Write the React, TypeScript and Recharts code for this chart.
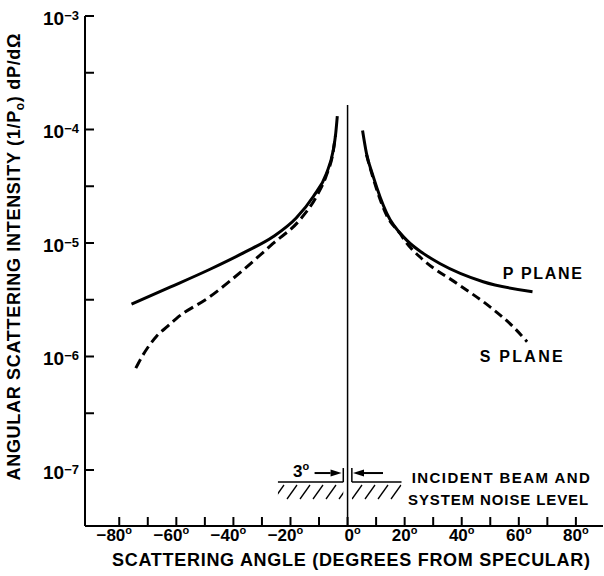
import React from 'react';
import { LineChart, Line, XAxis, YAxis, ReferenceLine, ReferenceArea, ReferenceDot } from 'recharts';

// readings: angle in degrees, intensity (1/Po) dP/dOmega
const pLeftAngle = [-75.7, -62, -48, -36, -26, -18, -12, -7.4, -5, -4.2, -3.6];
const pLeftValue = [2.9e-6, 4.1e-6, 5.9e-6, 8.3e-6, 1.14e-5, 1.66e-5, 2.57e-5, 4.1e-5, 6.6e-5, 9.0e-5, 1.31e-4];

const sLeftAngle = [-74.2, -72, -70, -67, -63, -59.9, -48.2, -36.6, -26.1, -16.7, -10.9, -7.5, -5, -4.2];
const sLeftValue = [7.9e-7, 1.0e-6, 1.2e-6, 1.5e-6, 1.85e-6, 2.17e-6, 3.37e-6, 5.78e-6, 9.9e-6, 1.6e-5, 2.57e-5, 3.9e-5, 6.5e-5, 9.0e-5];

const pRightAngle = [5.25, 6.6, 9, 13.7, 20.7, 26.5, 32.3, 47.5, 64.8];
const pRightValue = [9.8e-5, 6.2e-5, 3.84e-5, 1.83e-5, 1.06e-5, 8.1e-6, 6.6e-6, 4.56e-6, 3.72e-6];

const sRightAngle = [6.6, 9, 13.7, 18.3, 20.7, 26.5, 38.2, 49.8, 58, 62.9];
const sRightValue = [6.0e-5, 3.7e-5, 1.75e-5, 1.22e-5, 1.0e-5, 7.1e-6, 4.42e-6, 2.75e-6, 1.83e-6, 1.35e-6];

const angleTicks = [-80, -70, -60, -50, -40, -30, -20, -10, 0, 10, 20, 30, 40, 50, 60, 70, 80];
const intensityTicks = [1e-3, 3.162e-4, 1e-4, 3.162e-5, 1e-5, 3.162e-6, 1e-6, 3.162e-7, 1e-7];

// incident beam / noise level annotation
const noiseLevel = 7.83e-8;
const hatchBottom = 5.45e-8;
const arrowLevel = 9.4e-8;
const barTop = 1.04e-7;

const FONT = '"Liberation Sans", Arial, Helvetica, sans-serif';
const INK = '#000';

const toPoints = (xs: number[], ys: number[]) => xs.map((x, i) => ({ x, y: ys[i] }));

function LeftTick(props: any) {
  const { x, y, payload } = props;
  const exp = Math.log10(payload.value);
  const decade = Math.abs(exp - Math.round(exp)) < 0.01;
  return (
    <g>
      <line x1={x} x2={x + 9} y1={y} y2={y} stroke={INK} strokeWidth={2} />
      {decade && (
        <text x={x - 6} y={y + 9} textAnchor="end" fontFamily={FONT} fontWeight="bold" fill={INK}>
          <tspan fontSize={19}>10</tspan>
          <tspan fontSize={13} dy={-5}>{'\u2212' + Math.abs(Math.round(exp))}</tspan>
        </text>
      )}
    </g>
  );
}

function RightTick(props: any) {
  const { x, y } = props;
  return <line x1={x} x2={x - 9} y1={y} y2={y} stroke={INK} strokeWidth={2} />;
}

function TopTick(props: any) {
  const { x, y } = props;
  return <line x1={x} x2={x} y1={y} y2={y + 9} stroke={INK} strokeWidth={2} />;
}

function BottomTick(props: any) {
  const { x, y, payload } = props;
  const v = payload.value;
  const shift = v < 0 ? -5 : v === 0 ? 5 : 0;
  return (
    <g>
      <line x1={x} x2={x} y1={y} y2={y - 9} stroke={INK} strokeWidth={2} />
      {v % 20 === 0 && (
        <text x={x + shift} y={y + 15} textAnchor="middle" fontFamily={FONT} fontWeight="bold" fontSize={17} fill={INK}>
          {(v < 0 ? '\u2212' : '') + Math.abs(v)}
          <tspan fontSize={11} dy={-7}>o</tspan>
        </text>
      )}
    </g>
  );
}

const noteText = (label: string, size: number, length: number) => (p: any) => (
  <text x={p.cx} y={p.cy} fontFamily={FONT} fontWeight="bold" fontSize={size} fill={INK}
    textLength={length} lengthAdjust="spacing">
    {label}
  </text>
);

const arrowShape = (dir: number, len: number) => (p: any) => {
  const { cx, cy } = p;
  const head = 11;
  return (
    <g>
      <line x1={cx - dir * len} y1={cy} x2={cx - dir * head} y2={cy} stroke={INK} strokeWidth={2} />
      <polygon points={`${cx},${cy} ${cx - dir * head},${cy - 3.5} ${cx - dir * head},${cy + 3.5}`} fill={INK} />
    </g>
  );
};

const degreeLabel = (p: any) => (
  <text x={p.cx} y={p.cy} textAnchor="middle" fontFamily={FONT} fontWeight="bold" fontSize={17} fill={INK}>
    3<tspan fontSize={11} dy={-7}>o</tspan>
  </text>
);

const yTitle = (props: any) => {
  const { x, y, height } = props.viewBox;
  const cx = x + 20;
  const cy = y + height / 2 - 14;
  return (
    <text x={cx} y={cy} transform={`rotate(-90 ${cx} ${cy})`} textAnchor="middle" fontFamily={FONT}
      fontWeight="bold" fontSize={18} fill={INK} textLength={447} lengthAdjust="spacing">
      ANGULAR SCATTERING INTENSITY (1/P<tspan fontSize={12} dy={4}>o</tspan><tspan dy={-4}>) dP/d{'\u03A9'}</tspan>
    </text>
  );
};

const xTitle = (props: any) => {
  const { x, y, width } = props.viewBox;
  return (
    <text x={x + width / 2 + 7} y={y + 40} textAnchor="middle" fontFamily={FONT} fontWeight="bold"
      fontSize={18} fill={INK} textLength={478} lengthAdjust="spacing">
      SCATTERING ANGLE (DEGREES FROM SPECULAR)
    </text>
  );
};

export default function App() {
  const xDomain = [-92, 89.5];
  const yDomain = [3.21e-8, 1e-3];
  return (
    <div style={{ position: 'absolute', left: 0, top: 0, width: 604, height: 576, background: '#fff' }}>
      <svg width={0} height={0} style={{ position: 'absolute' }}>
        <defs>
          <pattern id="hatch" patternUnits="userSpaceOnUse" x={0} y={482} width={13} height={18}>
            <line x1={1} y1={17} x2={11} y2={3} stroke={INK} strokeWidth={1.3} />
          </pattern>
        </defs>
      </svg>
      <LineChart width={604} height={576} margin={{ top: 16, right: 1, bottom: 0, left: 0 }}>
        <XAxis dataKey="x" type="number" domain={xDomain} ticks={angleTicks} allowDataOverflow
          height={50} tickSize={0} tickMargin={0} tickLine={false} tick={<BottomTick />}
          axisLine={{ stroke: INK, strokeWidth: 2 }} label={xTitle} />
        <XAxis xAxisId="top" orientation="top" dataKey="x" type="number" domain={xDomain} ticks={angleTicks}
          allowDataOverflow height={0} tickSize={0} tickMargin={0} tickLine={false} tick={<TopTick />}
          axisLine={{ stroke: INK, strokeWidth: 2 }} />
        <YAxis type="number" scale="log" domain={yDomain} ticks={intensityTicks} allowDataOverflow
          width={85} tickSize={0} tickMargin={0} tickLine={false} tick={<LeftTick />}
          axisLine={{ stroke: INK, strokeWidth: 2 }} label={yTitle} />
        <YAxis yAxisId="right" orientation="right" type="number" scale="log" domain={yDomain}
          ticks={intensityTicks} allowDataOverflow width={0} tickSize={0} tickMargin={0} tickLine={false}
          tick={<RightTick />} axisLine={{ stroke: INK, strokeWidth: 2 }} />

        <ReferenceLine segment={[{ x: 0, y: yDomain[0] }, { x: 0, y: 1.64e-4 }]} stroke={INK} strokeWidth={1.5} ifOverflow="visible" />

        <ReferenceArea x1={-24.4} x2={-1.5} y1={hatchBottom} y2={noiseLevel} fill="url(#hatch)" fillOpacity={1} stroke="none" ifOverflow="visible" />
        <ReferenceArea x1={1.5} x2={18.9} y1={hatchBottom} y2={noiseLevel} fill="url(#hatch)" fillOpacity={1} stroke="none" ifOverflow="visible" />
        <ReferenceLine segment={[{ x: -24.4, y: noiseLevel }, { x: -1.5, y: noiseLevel }]} stroke={INK} strokeWidth={1.5} ifOverflow="visible" />
        <ReferenceLine segment={[{ x: 1.5, y: noiseLevel }, { x: 18.9, y: noiseLevel }]} stroke={INK} strokeWidth={1.5} ifOverflow="visible" />
        <ReferenceLine segment={[{ x: -1.5, y: noiseLevel }, { x: -1.5, y: barTop }]} stroke={INK} strokeWidth={1.5} ifOverflow="visible" />
        <ReferenceLine segment={[{ x: 1.5, y: noiseLevel }, { x: 1.5, y: barTop }]} stroke={INK} strokeWidth={1.5} ifOverflow="visible" />
        <ReferenceDot x={-2.1} y={arrowLevel} r={0} shape={arrowShape(1, 27)} ifOverflow="visible" />
        <ReferenceDot x={1.9} y={arrowLevel} r={0} shape={arrowShape(-1, 30)} ifOverflow="visible" />
        <ReferenceDot x={-16.3} y={8.67e-8} r={0} shape={degreeLabel} ifOverflow="visible" />
        <ReferenceDot x={22.5} y={7.68e-8} r={0} shape={noteText('INCIDENT BEAM AND', 15, 178)} ifOverflow="visible" />
        <ReferenceDot x={21.2} y={4.92e-8} r={0} shape={noteText('SYSTEM NOISE LEVEL', 15, 180)} ifOverflow="visible" />

        <ReferenceDot x={54.4} y={4.82e-6} r={0} shape={noteText('P  PLANE', 16, 79)} ifOverflow="visible" />
        <ReferenceDot x={46.3} y={9.03e-7} r={0} shape={noteText('S  PLANE', 16, 83)} ifOverflow="visible" />

        <Line data={toPoints(sLeftAngle, sLeftValue)} dataKey="y" type="monotone" stroke={INK} strokeWidth={3}
          strokeDasharray="10 5" dot={false} isAnimationActive={false} />
        <Line data={toPoints(pLeftAngle, pLeftValue)} dataKey="y" type="monotone" stroke={INK} strokeWidth={3}
          dot={false} isAnimationActive={false} />
        <Line data={toPoints(sRightAngle, sRightValue)} dataKey="y" type="monotone" stroke={INK} strokeWidth={3}
          strokeDasharray="9 5" dot={false} isAnimationActive={false} />
        <Line data={toPoints(pRightAngle, pRightValue)} dataKey="y" type="monotone" stroke={INK} strokeWidth={3}
          dot={false} isAnimationActive={false} />
      </LineChart>
    </div>
  );
}
